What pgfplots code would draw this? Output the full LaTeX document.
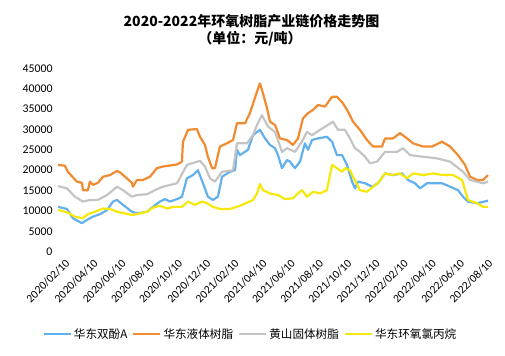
\documentclass[border=0pt]{standalone}
\usepackage{fontspec}
\setmainfont{Carlito}
\newfontfamily\cjk{Noto Sans CJK SC}
\usepackage{pgfplots}
\pgfplotsset{compat=1.18}
\definecolor{cblue}{RGB}{98,176,238}
\definecolor{corange}{RGB}{242,138,48}
\definecolor{cgray}{RGB}{196,196,196}
\definecolor{cyellow}{RGB}{246,232,10}
\begin{document}
\begin{tikzpicture}
\path[use as bounding box] (-58bp,-104.3bp) rectangle (447bp,251.7bp);
\begin{axis}[
  scale only axis,
  width=430bp, height=183.4bp,
  xmin=-0.35, xmax=30.14,
  ymin=0, ymax=45000,
  clip=false,
  axis line style={draw=none},
  major tick length=0pt,
  ytick={0,5000,...,45000},
  scaled y ticks=false,
  /pgf/number format/.cd, set thousands separator={}, assume math mode=true,
  /pgfplots/.cd,
  yticklabel style={font=\fontsize{11.8bp}{13bp}\selectfont, anchor=east, xshift=-2bp},
  xtick={0,2,...,30},
  xticklabels={2020/02/10,2020/04/10,2020/06/10,2020/08/10,2020/10/10,2020/12/10,2021/02/10,2021/04/10,2021/06/10,2021/08/10,2021/10/10,2021/12/10,2022/02/10,2022/04/10,2022/06/10,2022/08/10},
  xticklabel style={font=\fontsize{11.5bp}{13bp}\selectfont, rotate=45, anchor=east, yshift=-10bp},
  legend columns=4,
  legend style={at={(0.4477,-0.449)}, anchor=center, draw=none, fill=none,
    font=\cjk\fontsize{11.6bp}{13bp}\selectfont, inner sep=0pt,
    /tikz/every even column/.append style={column sep=3bp}},
  legend image code/.code={\draw[#1, line width=2.2bp] (0bp,0bp) -- (27bp,0bp);},
  every axis plot/.append style={line width=2.2bp, line join=round, no markers},
]
\addplot[cblue] coordinates {
(-0.35,11000)(0.28,10500)(0.71,8200)(1.35,7000)(1.70,7800)(2.13,8600)(2.62,9200)(3.12,10200)(3.55,12300)(3.83,12700)(4.26,11500)(4.89,9800)(5.25,9400)(5.96,9800)(6.38,11000)(6.88,12300)(7.23,12900)(7.59,12300)(8.09,12900)(8.44,13500)(8.79,18000)(9.22,18800)(9.57,20000)(9.93,16800)(10.28,13500)(10.64,12700)(10.99,13500)(11.28,18400)(11.84,19600)(12.20,20000)(12.34,25000)(12.55,23700)(13.12,25000)(13.48,28600)(13.97,29900)(14.33,27800)(14.68,26200)(15.04,25400)(15.25,23700)(15.53,20500)(15.89,22500)(16.10,22100)(16.45,20500)(16.81,22100)(17.16,26600)(17.38,25000)(17.66,27400)(18.09,27800)(18.72,28200)(19.08,27000)(19.43,23700)(19.79,23700)(20.14,21300)(20.50,17200)(20.71,15550)(20.92,17200)(21.42,16800)(21.91,15950)(22.34,16800)(22.84,19200)(23.40,18800)(24.04,19200)(24.47,17600)(24.96,16800)(25.32,15550)(25.82,16800)(26.88,16800)(27.45,15950)(28.01,15100)(28.37,13500)(28.72,12300)(29.36,11900)(30.14,12500)
};
\addlegendentry{华东双酚A}
\addplot[corange] coordinates {
(-0.35,21300)(0.14,21100)(0.35,19600)(0.99,17200)(1.35,16900)(1.42,15100)(1.77,15100)(1.91,17200)(2.13,16400)(2.48,16900)(2.84,18400)(3.33,18800)(3.83,19800)(4.04,19500)(4.40,18400)(4.89,16900)(4.96,15950)(5.25,17600)(5.67,17600)(6.17,18400)(6.67,20500)(7.09,20900)(8.09,21400)(8.44,22100)(8.51,27000)(8.87,29900)(9.50,30100)(9.72,28200)(10.07,26200)(10.28,23300)(10.57,20500)(10.78,20500)(11.13,25800)(11.63,26600)(12.06,27400)(12.34,31500)(12.91,31500)(13.26,34000)(13.76,39300)(13.97,41300)(14.18,38900)(14.47,35200)(14.68,31900)(15.04,31100)(15.39,27800)(15.89,27400)(16.31,26200)(16.67,27800)(17.02,32700)(17.38,34000)(17.73,34800)(18.09,36000)(18.58,35600)(19.08,38000)(19.43,38000)(19.86,36400)(20.21,34400)(20.57,31900)(21.06,29900)(21.56,27400)(21.99,25800)(22.62,25800)(22.84,27800)(23.40,27800)(23.90,29100)(24.40,27800)(24.82,26600)(25.53,25800)(26.17,25800)(26.88,27000)(27.45,25800)(28.01,23700)(28.51,21300)(28.87,18400)(29.36,17600)(29.79,17600)(30.14,18800)
};
\addlegendentry{华东液体树脂}
\addplot[cgray] coordinates {
(-0.35,16100)(0.28,15550)(0.85,13500)(1.42,12300)(1.91,12700)(2.48,12700)(3.12,13900)(3.55,15100)(3.83,15950)(4.26,15100)(4.89,13500)(5.25,13900)(5.96,14100)(6.52,15100)(7.09,15950)(8.09,16800)(8.79,21300)(9.72,22300)(10.07,20900)(10.43,18000)(10.78,17200)(11.28,19600)(12.06,20000)(12.34,26600)(13.05,26600)(13.48,28600)(13.76,31100)(14.11,33500)(14.54,30700)(15.04,29400)(15.53,24500)(15.89,25400)(16.45,24500)(16.95,27000)(17.30,29400)(17.66,28600)(18.23,29900)(18.79,31100)(19.15,31900)(19.50,29900)(20.00,29900)(20.35,27800)(20.71,25400)(21.06,24500)(21.42,23300)(21.77,21700)(22.27,22100)(22.84,24500)(23.69,24500)(24.11,25400)(24.61,23700)(25.53,23300)(26.52,22900)(27.45,22100)(28.37,19600)(28.87,17600)(29.79,16800)(30.14,17200)
};
\addlegendentry{黄山固体树脂}
\addplot[cyellow] coordinates {
(-0.35,10200)(0.28,9700)(0.85,8600)(1.42,8200)(1.77,9200)(2.27,9800)(2.84,10600)(3.33,10500)(3.83,9800)(4.40,9400)(4.89,9000)(5.46,9400)(5.96,9800)(6.38,10800)(6.88,11300)(7.38,10600)(7.80,11000)(8.44,11000)(8.87,12300)(9.36,11500)(9.86,12300)(10.21,11900)(10.64,11000)(11.13,10500)(11.84,10500)(12.34,11000)(12.77,11600)(13.48,12700)(13.76,14300)(13.97,16600)(14.18,15100)(14.68,14300)(15.25,13900)(15.74,12900)(16.31,13100)(16.67,14300)(16.95,15100)(17.30,13500)(17.73,14700)(18.23,14300)(18.72,15100)(19.08,21300)(19.43,20500)(19.79,19600)(20.00,20500)(20.35,20000)(20.57,18400)(21.06,15100)(21.56,14700)(21.99,15950)(22.34,16800)(22.84,19200)(23.33,18800)(23.90,19200)(24.40,18000)(24.82,19200)(25.53,18800)(26.24,19200)(26.95,18800)(27.66,18800)(28.30,17600)(28.51,15100)(28.72,12700)(29.36,11900)(29.79,11000)(30.14,11000)
};
\addlegendentry{华东环氧氯丙烷}
\end{axis}
\node[font=\cjk\bfseries\fontsize{14bp}{16bp}\selectfont] at (193.5bp,230.2bp) {2020-2022年环氧树脂产业链价格走势图};
\node[font=\cjk\bfseries\fontsize{14bp}{16bp}\selectfont] at (192bp,213.2bp) {（单位：元/吨）};
\end{tikzpicture}
\end{document}
